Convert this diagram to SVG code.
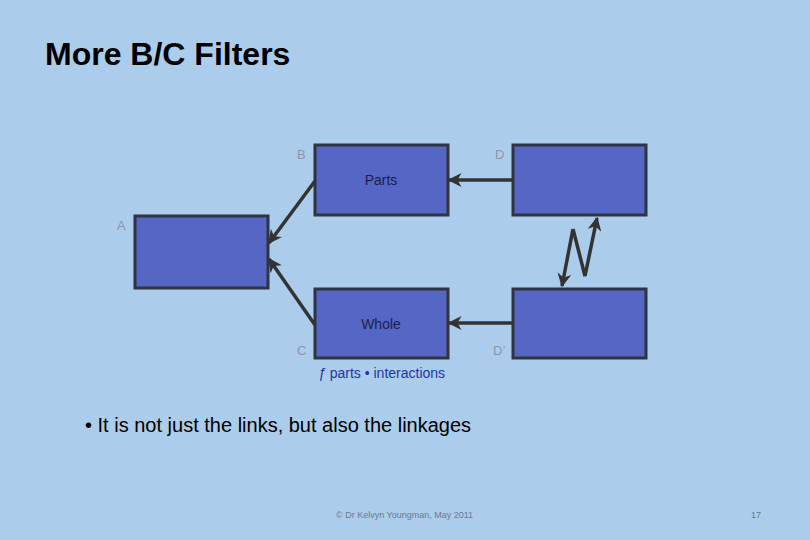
<svg xmlns="http://www.w3.org/2000/svg" width="810" height="540" viewBox="0 0 810 540">
<style>
.box{fill:#5566c4;stroke:#2e3440;stroke-width:3}
.lbl{font-family:"Liberation Sans",Arial,sans-serif;font-size:13px;fill:#8a96a8}
.in{font-family:"Liberation Sans",Arial,sans-serif;font-size:14px;fill:#1a1f4a;text-anchor:middle}
.c{stroke:#333;stroke-width:3.5;fill:none;marker-end:url(#ah)}
</style>
<defs><marker id="ah" viewBox="0 0 10 10" refX="9" refY="5" markerWidth="4" markerHeight="4" orient="auto"><path d="M0,0L10,5L0,10L3,5z" fill="#333"/></marker></defs>
<rect width="810" height="540" fill="#abcdeb"/>
<text x="45" y="65" font-family="Liberation Sans,Arial,sans-serif" font-weight="bold" font-size="32" fill="#000">More B/C Filters</text>
<g id="A"><rect class="box" x="135" y="216" width="133" height="72"/><text class="lbl" x="117" y="230">A</text></g>
<g id="B"><rect class="box" x="315" y="145" width="133" height="70"/><text class="lbl" x="297" y="159">B</text><text class="in" x="381" y="185">Parts</text></g>
<g id="D"><rect class="box" x="513" y="145" width="133" height="70"/><text class="lbl" x="495" y="159">D</text></g>
<g id="C"><rect class="box" x="315" y="289" width="133" height="69"/><text class="lbl" x="297" y="355">C</text><text class="in" x="381" y="329">Whole</text></g>
<g id="Dp"><rect class="box" x="513" y="289" width="133" height="69"/><text class="lbl" x="493" y="355">D’</text></g>
<g id="connectors">
<line class="c" x1="315" y1="181" x2="269" y2="243"/>
<line class="c" x1="315" y1="325" x2="269" y2="259"/>
<line class="c" x1="513" y1="180" x2="449" y2="180"/>
<line class="c" x1="513" y1="323" x2="449" y2="323"/>
<polyline class="c" points="573,229 562,286"/>
<polyline class="c" points="573,229 585,276 597,218"/>
</g>
<text x="318" y="378" font-family="Liberation Sans,Arial,sans-serif" font-size="14" fill="#2233aa"><tspan font-style="italic">ƒ</tspan> parts • interactions</text>
<text x="85" y="432" font-family="Liberation Sans,Arial,sans-serif" font-size="20" fill="#000">•  It is not just the links, but also the linkages</text>
<text x="336" y="518" font-family="Liberation Sans,Arial,sans-serif" font-size="9" fill="#6a7a90">© Dr Kelvyn Youngman, May 2011</text>
<text x="751" y="518" font-family="Liberation Sans,Arial,sans-serif" font-size="9" fill="#6a7a90">17</text>
</svg>
